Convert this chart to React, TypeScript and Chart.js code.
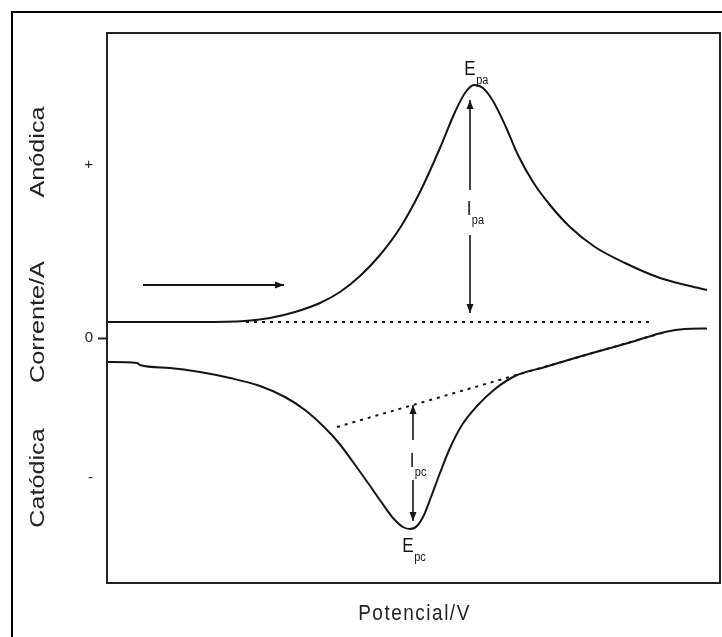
import React, { useEffect, useRef } from 'react';
import { Chart, registerables } from 'chart.js';

Chart.register(...registerables);

// ---- data (arbitrary units: potential on x, current on y) ----
const anodicX = [0, 9.3, 13.8, 16.3, 18.8, 21.3, 23.3, 25.3, 27.3, 29.3, 31.3, 33.3, 34.8, 35.8, 36.7, 37.6, 38.6, 39.8, 41.1, 42.6, 44.3, 46.3, 48.8, 51.8, 55.3, 58.3, 60.0];
const anodicY = [1.6, 1.6, 1.7, 2.0, 2.6, 3.5, 4.6, 6.2, 8.3, 11.0, 14.6, 19.0, 22.6, 24.5, 25.3, 25.0, 23.7, 21.3, 18.3, 15.6, 13.3, 11.1, 9.1, 7.5, 6.0, 5.2, 4.8];

const cathodicX = [0, 3.0, 3.3, 6.3, 9.3, 12.3, 15.3, 17.8, 19.8, 21.5, 23.1, 24.6, 26.1, 27.5, 28.6, 29.6, 30.3, 31.0, 31.7, 32.4, 33.3, 34.3, 35.5, 37.0, 38.8, 40.8, 43.8, 46.8, 49.8, 52.8, 55.8, 57.8, 60.0];
const cathodicY = [-2.4, -2.5, -2.7, -3.0, -3.4, -4.0, -4.8, -5.9, -7.2, -8.7, -10.4, -12.4, -14.5, -16.5, -18.0, -18.9, -19.1, -18.8, -17.7, -15.9, -13.5, -11.0, -8.7, -6.8, -5.1, -3.8, -2.9, -2.0, -1.15, -0.3, 0.6, 0.9, 0.95];

const anodicBaseX = [13.9, 54.3];
const anodicBaseY = [1.6, 1.6];
const cathodicBaseX = [23.0, 55.8];
const cathodicBaseY = [-8.9, 0.6];

const sweepArrowX = [3.6, 17.7];
const sweepArrowY = [5.3, 5.3];

const ipaArrowX = 36.3;
const ipaArrowY = [23.8, 14.8, 10.3, 2.5];
const ipcArrowX = 30.6;
const ipcArrowY = [-6.7, -10.2, -14.2, -18.3];

const yTickValues = [-14.0, 0, 17.3];
const yTickLabels = ['-', '0', '+'];

const X_MIN = 0;
const X_MAX = 61.3;
const Y_MIN = -24.5;
const Y_MAX = 30.5;

// annotation labels: [main, sub, x, y]
const peakLabels: [string, string, number, number][] = [
  ['E', 'pa', 36.3, 26.8],
  ['I', 'pa', 36.2, 12.8],
  ['I', 'pc', 30.5, -12.4],
  ['E', 'pc', 30.1, -20.9],
];

const yTitles = ['Anódica', 'Corrente/A', 'Catódica'];
const xTitle = 'Potencial/V';

const FONT = '"Liberation Sans", Arial, sans-serif';
const INK = '#141414';

function pts(xs: number[], ys: number[]) {
  return xs.map((x, i) => ({ x, y: ys[i] }));
}

function arrowHead(ctx: CanvasRenderingContext2D, x: number, y: number, dx: number, dy: number) {
  const len = 9;
  const hw = 3.5;
  const px = -dy, py = dx;
  ctx.beginPath();
  ctx.moveTo(x, y);
  ctx.lineTo(x - dx * len + px * hw, y - dy * len + py * hw);
  ctx.lineTo(x - dx * len - px * hw, y - dy * len - py * hw);
  ctx.closePath();
  ctx.fill();
}

function stretchedText(ctx: CanvasRenderingContext2D, text: string, x: number, y: number, sx: number, sy: number, rot = 0) {
  ctx.save();
  ctx.translate(x, y);
  if (rot) ctx.rotate(rot);
  ctx.scale(sx, sy);
  ctx.fillText(text, 0, 0);
  ctx.restore();
}

const annotPlugin = {
  id: 'annot',
  beforeDraw(chart: any) {
    const ctx: CanvasRenderingContext2D = chart.ctx;
    ctx.save();
    ctx.strokeStyle = '#000';
    ctx.lineWidth = 2;
    ctx.strokeRect(12, 12, chart.width + 20, chart.height + 20);
    ctx.restore();
  },
  afterDraw(chart: any) {
    const ctx: CanvasRenderingContext2D = chart.ctx;
    const xs = chart.scales.x;
    const ys = chart.scales.y;
    const a = chart.chartArea;
    ctx.save();
    // plot frame
    ctx.strokeStyle = '#222';
    ctx.lineWidth = 2;
    ctx.strokeRect(a.left, a.top, a.right - a.left, a.bottom - a.top);

    ctx.fillStyle = INK;
    // arrow heads
    arrowHead(ctx, xs.getPixelForValue(sweepArrowX[1]), ys.getPixelForValue(sweepArrowY[1]), 1, 0);
    arrowHead(ctx, xs.getPixelForValue(ipaArrowX), ys.getPixelForValue(ipaArrowY[0]), 0, -1);
    arrowHead(ctx, xs.getPixelForValue(ipaArrowX), ys.getPixelForValue(ipaArrowY[3]), 0, 1);
    arrowHead(ctx, xs.getPixelForValue(ipcArrowX), ys.getPixelForValue(ipcArrowY[0]), 0, -1);
    arrowHead(ctx, xs.getPixelForValue(ipcArrowX), ys.getPixelForValue(ipcArrowY[3]), 0, 1);

    // peak labels
    ctx.textBaseline = 'middle';
    for (const [main, sub, vx, vy] of peakLabels) {
      const cx = xs.getPixelForValue(vx);
      const cy = ys.getPixelForValue(vy);
      ctx.font = `17px ${FONT}`;
      ctx.textAlign = 'center';
      const w = ctx.measureText(main).width;
      stretchedText(ctx, main, cx, cy, 1, 1.15);
      ctx.font = `11px ${FONT}`;
      ctx.textAlign = 'left';
      stretchedText(ctx, sub, cx + w / 2 + 0.5, cy + 11, 1, 1.15);
    }

    // axis titles
    ctx.fillStyle = '#222';
    ctx.textAlign = 'center';
    ctx.textBaseline = 'middle';
    ctx.font = `21px ${FONT}`;
    const yPos = [152, 322, 478];
    yTitles.forEach((t, i) => {
      stretchedText(ctx, t, 38, yPos[i], 1.2, 1, -Math.PI / 2);
    });
    ctx.font = `19px ${FONT}`;
    (ctx as any).letterSpacing = '1.5px';
    stretchedText(ctx, xTitle, (a.left + a.right) / 2 + 1, 614, 1, 1.12);
    (ctx as any).letterSpacing = '0px';
    ctx.restore();
  },
};

export default function App() {
  const ref = useRef<HTMLCanvasElement | null>(null);
  useEffect(() => {
    if (!ref.current) return;
    const solid = { showLine: true, pointRadius: 0, borderColor: INK, borderWidth: 2, fill: false };
    const chart = new Chart(ref.current, {
      type: 'scatter',
      data: {
        datasets: [
          { ...solid, data: pts(anodicX, anodicY), cubicInterpolationMode: 'monotone' },
          { ...solid, data: pts(cathodicX, cathodicY), cubicInterpolationMode: 'monotone' },
          { ...solid, data: pts(anodicBaseX, anodicBaseY), borderDash: [3, 5] },
          { ...solid, data: pts(cathodicBaseX, cathodicBaseY), borderDash: [3, 5] },
          { ...solid, data: pts(sweepArrowX, sweepArrowY) },
          { ...solid, data: pts([ipaArrowX, ipaArrowX], ipaArrowY.slice(0, 2)), borderWidth: 1.6 },
          { ...solid, data: pts([ipaArrowX, ipaArrowX], ipaArrowY.slice(2, 4)), borderWidth: 1.6 },
          { ...solid, data: pts([ipcArrowX, ipcArrowX], ipcArrowY.slice(0, 2)), borderWidth: 1.6 },
          { ...solid, data: pts([ipcArrowX, ipcArrowX], ipcArrowY.slice(2, 4)), borderWidth: 1.6 },
        ] as any,
      },
      options: {
        animation: false,
        responsive: false,
        events: [],
        layout: { padding: { left: 0, top: 33, right: 2, bottom: 0 } },
        plugins: { legend: { display: false }, tooltip: { enabled: false } },
        scales: {
          x: {
            type: 'linear',
            min: X_MIN,
            max: X_MAX,
            ticks: { display: false },
            grid: { display: false },
            border: { display: false },
            afterFit: (s: any) => { s.height = 54; },
          },
          y: {
            type: 'linear',
            min: Y_MIN,
            max: Y_MAX,
            afterBuildTicks: (s: any) => { s.ticks = yTickValues.map((v) => ({ value: v })); },
            afterFit: (s: any) => { s.width = 107; },
            ticks: {
              color: '#222',
              padding: 5,
              font: { size: 15, family: FONT },
              callback: (v: any) => {
                const i = yTickValues.indexOf(Number(v));
                return i >= 0 ? yTickLabels[i] : '';
              },
            },
            grid: {
              display: true,
              drawOnChartArea: false,
              drawTicks: true,
              tickLength: 9,
              tickWidth: 2,
              tickColor: (c: any) => (c.tick && c.tick.value === 0 ? '#222' : 'rgba(0,0,0,0)'),
            },
            border: { display: false },
          },
        },
      },
      plugins: [annotPlugin],
    } as any);
    return () => chart.destroy();
  }, []);
  return (
    <div style={{ position: 'absolute', left: 0, top: 0, width: 722, height: 637, background: '#fff' }}>
      <canvas ref={ref} width={722} height={637} style={{ display: 'block' }} />
    </div>
  );
}
